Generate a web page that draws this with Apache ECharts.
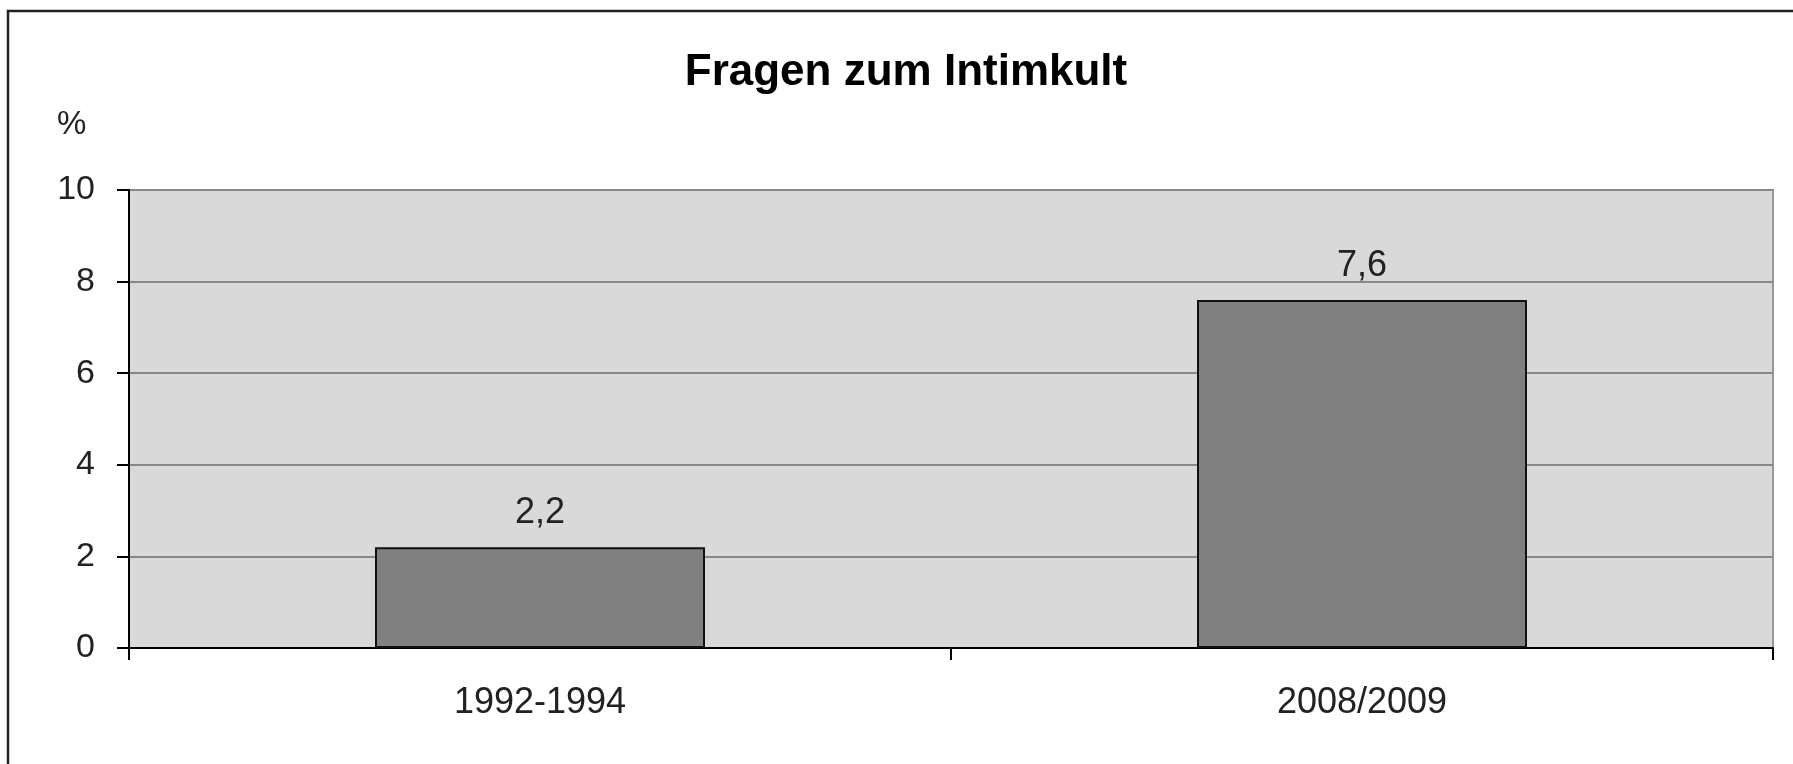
<!DOCTYPE html>
<html>
<head>
<meta charset="utf-8">
<script src="https://cdn.jsdelivr.net/npm/echarts@6/dist/echarts.min.js"></script>
<style>
  html, body { margin: 0; padding: 0; background: #fff; }
  #chart { width: 1793px; height: 764px; }
</style>
</head>
<body>
<div id="chart"></div>
<script>
// data
const categories = ["1992-1994", "2008/2009"];
const values = [2.2, 7.6];
const titleText = "Fragen zum Intimkult";
const unitLabel = "%";

const font = "Liberation Sans, Arial, sans-serif";
const chart = echarts.init(document.getElementById("chart"));

chart.setOption({
  backgroundColor: "#fff",
  animation: false,
  title: {
    text: titleText,
    left: 901,
    textAlign: "center",
    top: 46,
    textStyle: { fontFamily: font, fontSize: 44, fontWeight: "bold", color: "#000" },
  },
  graphic: [
    {
      type: "rect",
      shape: { x: 8, y: 11, width: 2000, height: 1000 },
      style: { fill: "none", stroke: "#222", lineWidth: 2.5 },
      silent: true,
    },
    {
      type: "text",
      left: 57,
      top: 108,
      style: { text: unitLabel, fontFamily: font, fontSize: 33, fill: "#222" },
    },
  ],
  grid: {
    left: 129,
    top: 190,
    right: 20,
    bottom: 116,
    show: true,
    backgroundColor: "#d9d9d9",
    borderColor: "#999",
    borderWidth: 2,
  },
  xAxis: {
    type: "category",
    data: categories,
    axisLine: { show: true, lineStyle: { color: "#000", width: 2 } },
    axisTick: { show: true, length: 12, lineStyle: { color: "#000", width: 2 } },
    axisLabel: {
      margin: 37,
      fontFamily: font,
      fontSize: 36,
      color: "#222",
    },
  },
  yAxis: {
    type: "value",
    min: 0,
    max: 10,
    interval: 2,
    axisLine: { show: true, lineStyle: { color: "#000", width: 2 } },
    axisTick: { show: true, length: 12, lineStyle: { color: "#000", width: 2 } },
    axisLabel: {
      margin: 34,
      fontFamily: font,
      fontSize: 34,
      color: "#222",
    },
    splitLine: { show: true, lineStyle: { color: "#888", width: 2 } },
  },
  series: [
    {
      type: "bar",
      data: values,
      barWidth: 330,
      itemStyle: { color: "#808080", borderColor: "#111", borderWidth: 2 },
      label: {
        show: true,
        position: "top",
        distance: 16,
        fontFamily: font,
        fontSize: 36,
        color: "#222",
        formatter: (p) => String(p.value).replace(".", ","),
      },
    },
  ],
});
</script>
</body>
</html>
